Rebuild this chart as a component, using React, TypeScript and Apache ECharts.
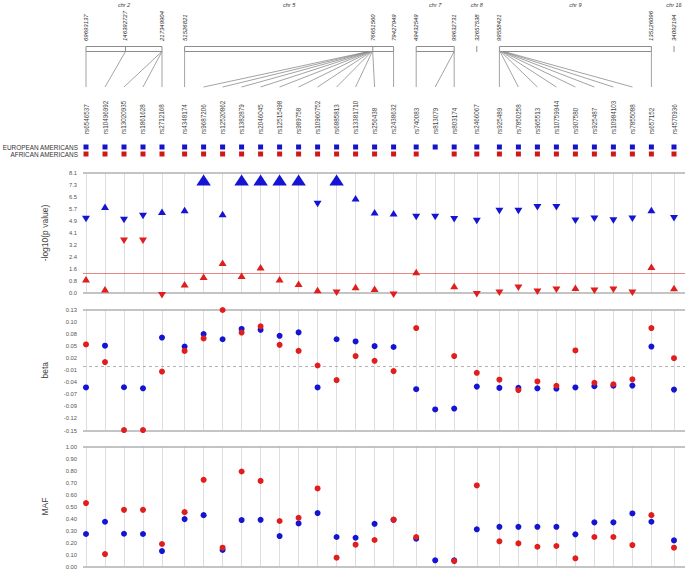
import React, { useEffect, useRef } from "react";
import * as echarts from "echarts";

// ---------------- data ----------------
const snps = [
  "rs6546537", "rs10496992", "rs13020935", "rs1861628", "rs2712168",
  "rs4348174", "rs9687206", "rs12520862", "rs1382879", "rs2046045", "rs12515498",
  "rs989758", "rs10960752", "rs6885813", "rs13381710", "rs256438", "rs2438632",
  "rs740083", "rs813079", "rs803174",
  "rs2466067",
  "rs925489", "rs7850258", "rs965513", "rs10759944", "rs907580", "rs925487",
  "rs10984103", "rs7855088", "rs657152",
  "rs4570936",
];
const snpChromosome = [2, 2, 2, 2, 2, 5, 5, 5, 5, 5, 5, 5, 5, 5, 5, 5, 5, 7, 7, 7, 8, 9, 9, 9, 9, 9, 9, 9, 9, 9, 16];
const snpPosition = [
  69693137, 146392727, 217200000, 217300000, 217349904,
  51526821, 76100000, 76160000, 76220000, 76280000, 76340000, 76400000, 76460000, 76520000, 76580000, 76640000, 79427949,
  49432549, 99600000, 99632731,
  32657538,
  99558421, 99700000, 99850000, 100000000, 100150000, 100300000, 100450000, 100600000, 135126096,
  34092194,
];

const chromosomes = [2, 5, 7, 8, 9, 16];
const chromosomeLabels = ["chr 2", "chr 5", "chr 7", "chr 8", "chr 9", "chr 16"];
const chromosomeTicks = [
  [69693137, 146392727, 217349904],
  [51526821, 76651560, 79427949],
  [49432549, 99632731],
  [32657538],
  [99558421, 135126096],
  [34092194],
];

// -log10(p value)
const pEuropean = [4.99, 5.83, 4.93, 5.2, 5.49, 5.6, 7.63, 5.33, 7.63, 7.63, 7.63, 7.63, 6.0, 7.63, 6.39, 5.45, 5.38, 5.13, 5.13, 4.97, 4.86, 5.53, 5.53, 5.78, 5.78, 4.88, 5.02, 4.9, 5.02, 5.6, 5.04];
const pAfrican = [0.92, 0.25, 3.53, 3.53, -0.16, 0.59, 1.1, 2.05, 1.17, 1.73, 0.92, 0.63, 0.2, 0.02, 0.4, 0.29, -0.11, 1.42, null, 0.47, -0.09, 0.02, 0.36, 0.09, 0.22, 0.36, 0.16, 0.22, 0.02, 1.78, 0.34];

// beta
const betaEuropean = [-0.05, 0.047, -0.0495, -0.052, 0.066, 0.045, 0.074, 0.062, 0.086, 0.084, 0.07, 0.078, -0.05, 0.062, 0.057, 0.046, 0.044, -0.054, -0.101, -0.099, -0.048, -0.051, -0.051, -0.052, -0.053, -0.05, -0.047, -0.046, -0.0455, 0.045, -0.055];
const betaAfrican = [0.05, 0.009, -0.149, -0.149, -0.013, 0.035, 0.064, 0.13, 0.0775, 0.092, 0.049, 0.035, 0.001, -0.033, 0.023, 0.012, -0.012, 0.088, null, 0.023, -0.016, -0.032, -0.056, -0.036, -0.046, 0.036, -0.039, -0.0425, -0.031, 0.088, 0.018];

// MAF
const mafEuropean = [0.272, 0.374, 0.274, 0.272, 0.13, 0.396, 0.429, 0.139, 0.388, 0.39, 0.255, 0.36, 0.446, 0.247, 0.241, 0.357, 0.39, 0.233, 0.053, 0.053, 0.311, 0.332, 0.332, 0.332, 0.332, 0.269, 0.369, 0.369, 0.443, 0.374, 0.219];
const mafAfrican = [0.529, 0.105, 0.473, 0.473, 0.189, 0.454, 0.723, 0.158, 0.792, 0.714, 0.38, 0.407, 0.651, 0.075, 0.183, 0.222, 0.392, 0.247, null, 0.047, 0.676, 0.211, 0.194, 0.166, 0.172, 0.07, 0.247, 0.247, 0.18, 0.429, 0.158];

const pTickLabels = ["0.0", "0.8", "1.6", "2.4", "3.2", "4.1", "4.9", "5.7", "6.5", "7.3", "8.1"];
const betaTickLabels = ["-0.15", "-0.12", "-0.09", "-0.07", "-0.04", "-0.01", "0.02", "0.05", "0.08", "0.10", "0.13"];
const mafTickLabels = ["0.00", "0.10", "0.20", "0.30", "0.40", "0.50", "0.60", "0.70", "0.80", "0.90", "1.00"];

const P_MIN = 0, P_MAX = 8.1, P_STEP = 0.81;
const B_MIN = -0.15, B_MAX = 0.13, B_STEP = 0.028;
const M_MIN = 0, M_MAX = 1, M_STEP = 0.1;
const P_THRESHOLD = 1.301; // p = 0.05
const GENOME_WIDE = 7.3;

// ---------------- layout helpers ----------------
const BLUE = "#1414d2";
const RED = "#e01e1e";
const FONT = "Liberation Sans, Arial, Helvetica, sans-serif";
const GROUP_GAP = 0.19;

const groupOf = snpChromosome.map((c) => chromosomes.indexOf(c));
const xs = snps.map((_, i) => i + GROUP_GAP * groupOf[i]);
const X_MIN = -0.158;
const X_MAX = 31.529;

const chromInfo = chromosomes.map((c) => {
  const idx = snpChromosome.map((cc, i) => (cc === c ? i : -1)).filter((i) => i >= 0);
  const pos = idx.map((i) => snpPosition[i]);
  return {
    firstX: xs[idx[0]],
    lastX: xs[idx[idx.length - 1]],
    minPos: Math.min(...pos),
    maxPos: Math.max(...pos),
    count: idx.length,
  };
});
const posToX = (ci: number, pos: number) => {
  const c = chromInfo[ci];
  if (c.maxPos === c.minPos) return c.firstX;
  return c.firstX + ((pos - c.minPos) / (c.maxPos - c.minPos)) * (c.lastX - c.firstX);
};
const barX = snps.map((_, i) => posToX(groupOf[i], snpPosition[i]));

const ticksOf = (min: number, step: number, n: number) =>
  Array.from({ length: n }, (_, k) => +(min + k * step).toFixed(4));

export default function App() {
  const ref = useRef<HTMLDivElement>(null);
  useEffect(() => {
    if (!ref.current) return;
    const chart = echarts.init(ref.current, undefined, { renderer: "svg" });

    const gridLeft = 83;
    const gridRight = 4;
    const panels = [
      { top: 173, height: 120 },
      { top: 310, height: 120.5 },
      { top: 446.5, height: 120.2 },
    ];

    const yAxisBase = (gridIndex: number, min: number, max: number, step: number, labels: string[], name: string, nameGap: number) => ({
      type: "value",
      gridIndex,
      min,
      max,
      axisLine: { show: false },
      axisTick: { show: false },
      splitLine: { show: false },
      axisLabel: {
        customValues: ticksOf(min, step, labels.length),
        formatter: (v: number) => labels[Math.round((v - min) / step)] ?? "",
        fontSize: 5.8,
        color: "#555",
        margin: 6,
        fontFamily: FONT,
      },
      name,
      nameLocation: "middle",
      nameRotate: 90,
      nameGap,
      nameTextStyle: { fontSize: 8.5, color: "#444", fontFamily: FONT },
    });

    const frameSeries = (idx: number, min: number, max: number, extra: any[]) => ({
      type: "scatter",
      xAxisIndex: idx,
      yAxisIndex: idx,
      data: [[xs[0], min]],
      symbolSize: 0,
      itemStyle: { opacity: 0 },
      silent: true,
      z: 1,
      markLine: {
        silent: true,
        z: 1,
        symbol: ["none", "none"],
        label: { show: false },
        animation: false,
        data: [
          ...xs.map((x) => ({ xAxis: x, lineStyle: { color: "#dedede", width: 1, type: "solid" } })),
          ...extra,
          { yAxis: max, lineStyle: { color: "#b0b0b0", width: 1.6, type: "solid" } },
          { yAxis: min, lineStyle: { color: "#b0b0b0", width: 1.6, type: "solid" } },
        ],
      },
    });

    const triangleData = (vals: (number | null)[], betas: (number | null)[]) =>
      vals
        .map((v, i) =>
          v == null
            ? null
            : {
                value: [xs[i], v],
                symbolRotate: (betas[i] as number) < 0 ? 180 : 0,
                symbolSize: v >= GENOME_WIDE ? [14.5, 11] : [8, 6.5],
              }
        )
        .filter((d) => d !== null);

    const dotData = (vals: (number | null)[]) =>
      vals.map((v, i) => (v == null ? null : [xs[i], v])).filter((d) => d !== null);

    const option: any = {
      animation: false,
      backgroundColor: "#fff",
      grid: [
        { left: gridLeft, right: gridRight, top: 0, height: 160 },
        ...panels.map((p) => ({ left: gridLeft, right: gridRight, top: p.top, height: p.height })),
      ],
      xAxis: [0, 1, 2, 3].map((g) => ({
        type: "value",
        gridIndex: g,
        min: X_MIN,
        max: X_MAX,
        show: false,
        splitLine: { show: false },
      })),
      yAxis: [
        { type: "value", gridIndex: 0, min: 0, max: 160, inverse: true, show: false },
        yAxisBase(1, P_MIN, P_MAX, P_STEP, pTickLabels, "-log10(p value)", 34),
        yAxisBase(2, B_MIN, B_MAX, B_STEP, betaTickLabels, "beta", 34),
        yAxisBase(3, M_MIN, M_MAX, M_STEP, mafTickLabels, "MAF", 34),
      ],
      graphic: [
        {
          type: "text",
          x: 78,
          y: 147,
          style: { text: "EUROPEAN AMERICANS", align: "right", verticalAlign: "middle", fontSize: 6.4, fill: "#333", fontFamily: FONT },
        },
        {
          type: "text",
          x: 78,
          y: 154,
          style: { text: "AFRICAN AMERICANS", align: "right", verticalAlign: "middle", fontSize: 6.4, fill: "#333", fontFamily: FONT },
        },
      ],
      series: [
        // SNP header: connectors, names, legend squares
        {
          type: "custom",
          xAxisIndex: 0,
          yAxisIndex: 0,
          silent: true,
          data: xs.map((x, i) => [x, barX[i], chromInfo[groupOf[i]].count]),
          renderItem: (params: any, api: any) => {
            const i = params.dataIndex;
            const colX = api.coord([api.value(0), 0])[0];
            const bx = api.coord([api.value(1), 0])[0];
            const yOf = (v: number) => api.coord([api.value(0), v])[1];
            const children: any[] = [];
            if (api.value(2) > 1) {
              children.push({
                type: "line",
                shape: { x1: bx, y1: yOf(51.5), x2: colX, y2: yOf(87) },
                style: { stroke: "#8c8c8c", lineWidth: 0.8 },
              });
            }
            children.push({
              type: "text",
              x: colX,
              y: yOf(134),
              rotation: Math.PI / 2,
              style: { text: snps[i], fontSize: 6.3, fill: "#444", align: "left", verticalAlign: "middle", fontFamily: FONT },
            });
            children.push({
              type: "rect",
              shape: { x: colX - 2.5, y: yOf(144.5), width: 5, height: 5 },
              style: { fill: "#1515c8" },
            });
            if (mafAfrican[i] != null) {
              children.push({
                type: "rect",
                shape: { x: colX - 2.5, y: yOf(151.5), width: 5, height: 5 },
                style: { fill: "#d01818" },
              });
            }
            return { type: "group", children };
          },
        },
        // chromosome bars with coordinate labels
        {
          type: "custom",
          xAxisIndex: 0,
          yAxisIndex: 0,
          silent: true,
          data: chromInfo.map((c, ci) => [c.firstX, c.lastX, ci]),
          renderItem: (params: any, api: any) => {
            const ci = params.dataIndex;
            const x1 = api.coord([api.value(0), 0])[0];
            const x2 = api.coord([api.value(1), 0])[0];
            const yOf = (v: number) => api.coord([api.value(0), v])[1];
            const children: any[] = [];
            children.push({
              type: "text",
              x: (x1 + x2) / 2,
              y: yOf(5),
              style: { text: chromosomeLabels[ci], fontSize: 5.5, fontStyle: "italic", fill: "#333", align: "center", verticalAlign: "middle", fontFamily: FONT },
            });
            if (x2 - x1 > 1) {
              children.push({
                type: "rect",
                shape: { x: x1, y: yOf(46.5), width: x2 - x1, height: 5 },
                style: { fill: "none", stroke: "#8c8c8c", lineWidth: 1 },
              });
            } else {
              children.push({
                type: "line",
                shape: { x1, y1: yOf(46), x2: x1, y2: yOf(52) },
                style: { stroke: "#8c8c8c", lineWidth: 1 },
              });
            }
            chromosomeTicks[ci].forEach((pos) => {
              const tx = api.coord([posToX(ci, pos), 0])[0];
              children.push({
                type: "text",
                x: tx,
                y: yOf(41),
                rotation: Math.PI / 2,
                style: { text: String(pos), fontSize: 6, fontStyle: "italic", fill: "#222", align: "left", verticalAlign: "middle", fontFamily: FONT },
              });
              if (tx > x1 + 1 && tx < x2 - 1) {
                children.push({
                  type: "line",
                  shape: { x1: tx, y1: yOf(46.5), x2: tx, y2: yOf(51.5) },
                  style: { stroke: "#8c8c8c", lineWidth: 1 },
                });
              }
            });
            return { type: "group", children };
          },
        },
        // panel 1: -log10(p)
        frameSeries(1, P_MIN, P_MAX, [{ yAxis: P_THRESHOLD, lineStyle: { color: "#e06a6a", width: 0.8, type: "solid" } }]),
        {
          type: "scatter",
          name: "EUROPEAN AMERICANS",
          xAxisIndex: 1,
          yAxisIndex: 1,
          symbol: "triangle",
          clip: false,
          z: 3,
          itemStyle: { color: BLUE, opacity: 1 },
          data: triangleData(pEuropean, betaEuropean),
        },
        {
          type: "scatter",
          name: "AFRICAN AMERICANS",
          xAxisIndex: 1,
          yAxisIndex: 1,
          symbol: "triangle",
          clip: false,
          z: 3,
          itemStyle: { color: RED, opacity: 1 },
          data: triangleData(pAfrican, betaAfrican),
        },
        // panel 2: beta
        frameSeries(2, B_MIN, B_MAX, [{ yAxis: 0, lineStyle: { color: "#a0a0a0", width: 0.8, type: [3, 3] } }]),
        {
          type: "scatter",
          xAxisIndex: 2,
          yAxisIndex: 2,
          symbolSize: 6,
          clip: false,
          z: 3,
          itemStyle: { color: BLUE, opacity: 1 },
          data: dotData(betaEuropean),
        },
        {
          type: "scatter",
          xAxisIndex: 2,
          yAxisIndex: 2,
          symbolSize: 6,
          clip: false,
          z: 4,
          itemStyle: { color: RED, opacity: 1 },
          data: dotData(betaAfrican),
        },
        // panel 3: MAF
        frameSeries(3, M_MIN, M_MAX, []),
        {
          type: "scatter",
          xAxisIndex: 3,
          yAxisIndex: 3,
          symbolSize: 6,
          clip: false,
          z: 3,
          itemStyle: { color: BLUE, opacity: 1 },
          data: dotData(mafEuropean),
        },
        {
          type: "scatter",
          xAxisIndex: 3,
          yAxisIndex: 3,
          symbolSize: 6,
          clip: false,
          z: 4,
          itemStyle: { color: RED, opacity: 1 },
          data: dotData(mafAfrican),
        },
      ],
    };

    chart.setOption(option);
    return () => chart.dispose();
  }, []);

  return <div ref={ref} style={{ position: "fixed", left: 0, top: 0, width: 689, height: 571, background: "#fff" }} />;
}
